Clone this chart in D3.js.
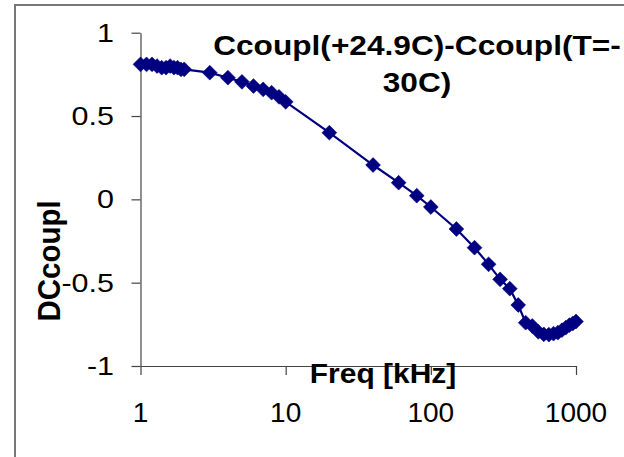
<!DOCTYPE html>
<html>
<head>
<meta charset="utf-8">
<script src="https://cdn.jsdelivr.net/npm/d3@7"></script>
<style>
  html, body { margin: 0; padding: 0; background: #fff; }
  svg { display: block; }
  text { font-family: "Liberation Sans", Arial, sans-serif; }
</style>
</head>
<body>
<svg id="chart" width="624" height="457"></svg>
<script>
// ---- data ----
const freq = [1, 1.1, 1.2, 1.3, 1.4, 1.5, 1.6, 1.7, 1.8, 1.9, 2,
              3, 4, 5, 6, 7, 8, 9, 10,
              20, 40, 60, 80, 100, 150, 200, 250, 300, 350, 400, 450,
              500, 550, 600, 650, 700, 750, 800, 850, 900, 950, 1000];
const dcoupl = [0.81, 0.81, 0.81, 0.80, 0.79, 0.79, 0.80, 0.79, 0.79, 0.78, 0.78,
                0.76, 0.73, 0.705, 0.68, 0.66, 0.64, 0.615, 0.585,
                0.40, 0.206, 0.10, 0.022, -0.046, -0.178, -0.29, -0.39, -0.48, -0.536, -0.634, -0.74,
                -0.76, -0.795, -0.81, -0.812, -0.806, -0.80, -0.785, -0.77, -0.755, -0.745, -0.733];
const xTicks = [1, 10, 100, 1000];
const yTicks = [-1, -0.5, 0, 0.5, 1];
const yTickLabels = ["-1", "-0.5", "0", "0.5", "1"];
const titleLines = ["Ccoupl(+24.9C)-Ccoupl(T=-", "30C)"];
const xTitle = "Freq [kHz]";
const yTitle = "DCcoupl";

const svg = d3.select("#chart");
const navy = "#000080";

// outer frame
svg.append("rect").attr("x", 15).attr("y", 5).attr("width", 700).attr("height", 600)
  .attr("fill", "#fff").attr("stroke", "#777").attr("stroke-width", 2);

const x = d3.scaleLog().domain([1, 1000]).range([140.5, 576]);
const y = d3.scaleLinear().domain([-1, 1]).range([366, 32.7]);

// axes
const xAxis = svg.append("g").attr("transform", `translate(0,${y(-1)})`)
  .call(d3.axisBottom(x).tickValues(xTicks).tickSize(9).tickSizeOuter(0).tickFormat(""));
const yAxis = svg.append("g").attr("transform", `translate(${x(1)},0)`)
  .call(d3.axisLeft(y).tickValues(yTicks).tickSize(9).tickSizeOuter(0).tickFormat(""));
[xAxis, yAxis].forEach(a => {
  a.selectAll("path, line").attr("stroke", "#444").attr("stroke-width", 1.2);
});

// y tick labels (stretched horizontally as in the reference)
svg.append("g").selectAll("text").data(yTicks).join("text")
  .attr("transform", d => `translate(114,${y(d) + 9}) scale(1.22,1)`)
  .attr("text-anchor", "end")
  .attr("font-size", 25)
  .attr("fill", "#000")
  .text((d, i) => yTickLabels[i]);

// x tick labels
svg.append("g").selectAll("text").data(xTicks).join("text")
  .attr("x", d => x(d)).attr("y", 422)
  .attr("text-anchor", "middle")
  .attr("font-size", 28)
  .attr("fill", "#000")
  .text(d => d);

// line
const line = d3.line().x((d, i) => x(freq[i])).y(d => y(d));
svg.append("path").datum(dcoupl)
  .attr("d", line).attr("fill", "none").attr("stroke", navy).attr("stroke-width", 2.2);

// diamond markers
const r = 7.4;
svg.append("g").selectAll("path").data(dcoupl).join("path")
  .attr("transform", (d, i) => `translate(${x(freq[i])},${y(d)})`)
  .attr("d", `M0,${-r}L${r},0L0,${r}L${-r},0Z`)
  .attr("fill", navy).attr("stroke", navy).attr("stroke-width", 0.6);

// title
svg.append("g").selectAll("text").data(titleLines).join("text")
  .attr("transform", (d, i) => `translate(417,${55 + i * 37}) scale(1.13,1)`)
  .attr("text-anchor", "middle")
  .attr("font-size", 28).attr("font-weight", "bold").attr("fill", "#000")
  .text(d => d);

// x axis title
svg.append("text")
  .attr("transform", "translate(383,383) scale(1.07,1)")
  .attr("text-anchor", "middle")
  .attr("font-size", 28).attr("font-weight", "bold").attr("fill", "#000")
  .text(xTitle);

// y axis title
svg.append("text")
  .attr("transform", "translate(60,261) scale(1.08,1) rotate(-90)")
  .attr("text-anchor", "middle")
  .attr("font-size", 29.5).attr("font-weight", "bold").attr("fill", "#000")
  .text(yTitle);
</script>
</body>
</html>
